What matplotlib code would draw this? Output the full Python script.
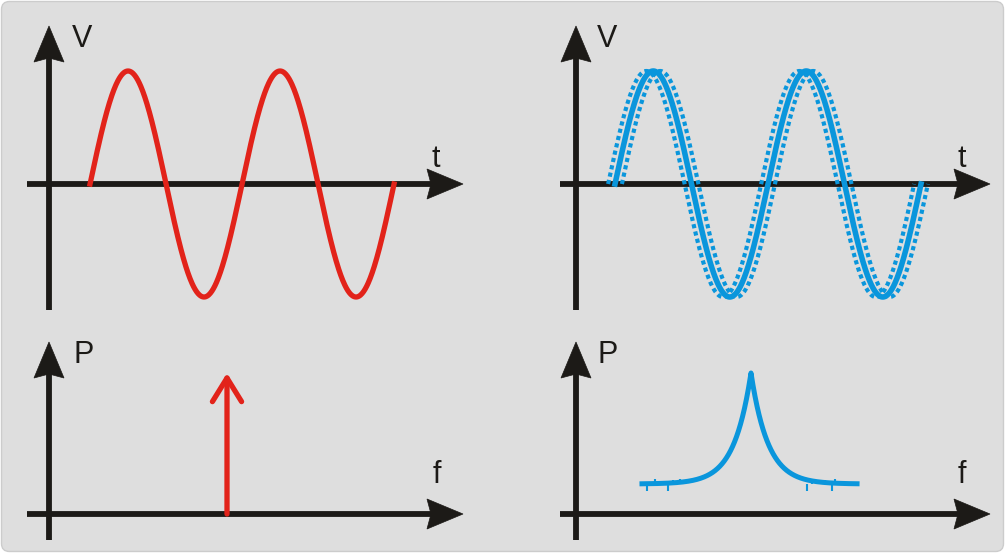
import numpy as np
import matplotlib.pyplot as plt
from matplotlib.patches import FancyBboxPatch, Polygon

# --- values ---
# top left: pure sine (phase/length in periods, amplitude in V units)
pure_start = 0.27
pure_cycles = 2.0
pure_amp = 1.0

# top right: sine with phase jitter (solid) and its +/- shifted copies (dotted)
jit_start = 0.255
jit_cycles = 2.0
jit_amp = 1.0
jit_shift = 0.045

# bottom left: single spectral line
line_f = 1.0
line_p = 1.0

# bottom right: broadened line
peak_f = 1.0
peak_p = 1.0
peak_base = 0.213
peak_width = 0.097
peak_span = (0.377, 1.606)
spike_f = [0.406, 0.526, 1.32, 1.463]
spike_dp = [-0.05, -0.05, -0.05, -0.05]
bump_f = [0.451, 0.554, 0.594, 1.349, 1.423, 1.48]
bump_dp = [0.035, 0.03, 0.035, 0.035, 0.03, 0.035]

RED = "#e2231a"
BLUE = "#0a96dc"
BLACK = "#1c1a17"
W, H = 1005, 553

plt.rcParams["font.family"] = ["Liberation Sans", "DejaVu Sans"]

fig = plt.figure(figsize=(W / 100, H / 100), dpi=100)
fig.patch.set_facecolor("white")
bg = fig.add_axes([0, 0, 1, 1])
bg.set_xlim(0, W)
bg.set_ylim(H, 0)
bg.axis("off")

bg.add_patch(FancyBboxPatch((1.5, 1.5), W - 3, H - 3,
                            boxstyle="round,pad=0,rounding_size=8",
                            fc="#dedede", ec="#cccccc", lw=1))


def arrow_axis(x0, y0, x1, y1):
    # shaft + filled head, all in pixels; head at (x1, y1)
    L, hw, notch = 36, 15, 4
    d = np.array([x1 - x0, y1 - y0], float)
    d /= np.hypot(*d)
    n = np.array([-d[1], d[0]])
    tip = np.array([x1, y1])
    base = tip - d * L
    bg.plot([x0, base[0] + d[0] * notch], [y0, base[1] + d[1] * notch],
            color=BLACK, lw=4.2, solid_capstyle="butt")
    bg.add_patch(Polygon([tip, base + n * hw, base + d * notch, base - n * hw],
                         closed=True, fc=BLACK, ec=BLACK, lw=0.5))


# axes of the four panels
arrow_axis(49, 310, 49, 26)
arrow_axis(27, 184, 463, 184)
arrow_axis(576, 310, 576, 26)
arrow_axis(560, 184, 990, 184)
arrow_axis(49, 540, 49, 342)
arrow_axis(27, 514, 463, 514)
arrow_axis(576, 540, 576, 342)
arrow_axis(560, 514, 990, 514)

txt = dict(fontsize=22, color=BLACK, ha="left", va="baseline")
bg.text(72, 47, "V", **txt)
bg.text(432, 167, "t", **txt)
bg.text(597, 47, "V", **txt)
bg.text(958, 167, "t", **txt)
bg.text(73, 363, "P", **txt)
bg.text(433, 483, "f", **txt)
bg.text(598, 363, "P", **txt)
bg.text(958, 483, "f", **txt)


def panel(x0, y0, sx, sy):
    # data (0, 0) sits on the axis origin at pixel (x0, y0)
    ax = fig.add_axes([0, 0, 1, 1])
    ax.axis("off")
    ax.patch.set_alpha(0)
    ax.set_xlim(-x0 / sx, (W - x0) / sx)
    ax.set_ylim(-(H - y0) / sy, y0 / sy)
    return ax


# top left
ax1 = panel(49, 184, 152, 113)
t = np.linspace(pure_start, pure_start + pure_cycles, 600)
ax1.plot(t, pure_amp * np.sin(2 * np.pi * (t - pure_start)), color=RED, lw=3.8)

# top right
ax2 = panel(576, 184, 153, 113)
t = np.linspace(jit_start, jit_start + jit_cycles, 600)
ph = 2 * np.pi * (t - jit_start)
for s in (-jit_shift, jit_shift):
    ax2.plot(t + s, jit_amp * np.sin(ph), color=BLUE, lw=3.0,
             linestyle=(0, (1, 0.8)), dash_capstyle="butt")
ax2.plot(t, jit_amp * np.sin(ph), color=BLUE, lw=4.0)

# bottom left
ax3 = panel(49, 514, 178, 141)
ax3.annotate("", xy=(line_f, line_p), xytext=(line_f, 0),
             arrowprops=dict(arrowstyle="->,head_length=17,head_width=10.5",
                             mutation_scale=1, lw=3.8, color=RED,
                             shrinkA=0, shrinkB=0))

# bottom right
ax4 = panel(576, 514, 175, 141)
f = np.linspace(peak_span[0], peak_span[1], 1400)
f = np.append(np.sort(f), peak_f)
f.sort()
p = peak_base + (peak_p - peak_base) * np.exp(-np.abs(f - peak_f) / peak_width)
ax4.plot(f, p, color=BLUE, lw=3.6)
# noise needles on the flat wings
ax4.vlines(spike_f, peak_base, peak_base + np.array(spike_dp), color=BLUE, lw=1.5)
ax4.vlines(bump_f, peak_base, peak_base + np.array(bump_dp), color=BLUE, lw=1.5)

fig.savefig("out.png", dpi=100, facecolor="white")
